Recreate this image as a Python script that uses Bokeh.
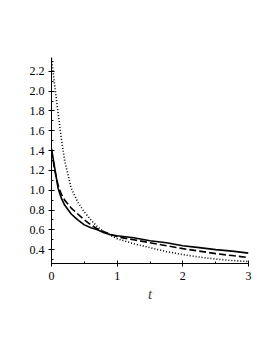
from bokeh.plotting import figure
from bokeh.models import Range1d, Label, FixedTicker, PrintfTickFormatter
from bokeh.embed import file_html
from bokeh.resources import INLINE

t = [0, 0.05, 0.1, 0.15, 0.2, 0.3, 0.4, 0.5, 0.6, 0.7, 0.8, 0.9, 1.0,
     1.25, 1.5, 1.75, 2.0, 2.25, 2.5, 2.75, 3.0]
H_solid = [1.42, 1.22, 1.02, 0.92, 0.85, 0.76, 0.70, 0.65, 0.62, 0.60, 0.57, 0.55, 0.54,
           0.52, 0.49, 0.47, 0.44, 0.42, 0.40, 0.385, 0.365]
H_dash = [1.40, 1.20, 1.05, 0.96, 0.90, 0.82, 0.76, 0.70, 0.65, 0.61, 0.58, 0.555, 0.53,
          0.50, 0.47, 0.44, 0.41, 0.385, 0.36, 0.34, 0.32]
H_dot = [2.33, 2.05, 1.78, 1.52, 1.30, 1.02, 0.88, 0.78, 0.70, 0.63, 0.58, 0.545, 0.51,
         0.46, 0.42, 0.38, 0.35, 0.325, 0.305, 0.29, 0.28]
x_ticks = [0, 1, 2, 3]
y_ticks = [0.4, 0.6, 0.8, 1.0, 1.2, 1.4, 1.6, 1.8, 2.0, 2.2]

p = figure(width=264, height=344, output_backend="svg", toolbar_location=None,
           x_range=Range1d(0, 3), y_range=Range1d(0.26, 2.34),
           min_border_left=51, min_border_right=16, min_border_top=57, min_border_bottom=81)
p.outline_line_color = None
p.xgrid.visible = False
p.ygrid.visible = False

font = "Liberation Serif"
for ax in (p.xaxis[0], p.yaxis[0]):
    ax.major_label_text_font = font
    ax.major_label_text_font_size = "12px"
    ax.major_label_text_color = "black"
    ax.axis_line_color = "black"
    ax.major_tick_line_color = "black"
    ax.minor_tick_line_color = "black"
    ax.major_tick_in = 3
    ax.major_tick_out = 3
    ax.minor_tick_in = 2
    ax.minor_tick_out = 0

p.xaxis.ticker = FixedTicker(ticks=x_ticks, minor_ticks=[0.5, 1.5, 2.5])
p.yaxis.ticker = FixedTicker(ticks=y_ticks,
                             minor_ticks=[0.3, 0.5, 0.7, 0.9, 1.1, 1.3, 1.5, 1.7, 1.9, 2.1, 2.3])
p.xaxis.formatter = PrintfTickFormatter(format="%d")
p.yaxis.formatter = PrintfTickFormatter(format="%.1f")
p.yaxis.major_label_standoff = 4
p.xaxis.major_label_standoff = 5

p.xaxis.axis_label = "t"
p.xaxis.axis_label_text_font = font
p.xaxis.axis_label_text_font_style = "italic"
p.xaxis.axis_label_text_font_size = "15px"
p.xaxis.axis_label_standoff = 3

p.add_layout(Label(x=-0.47, y=1.13, text="H", text_font=font, text_font_style="italic",
                   text_font_size="15px", text_align="center", text_baseline="middle"))

p.line(t, H_dot, line_color="black", line_width=1.6, line_dash="1 2")
p.line(t, H_dash, line_color="black", line_width=1.6, line_dash="7 3")
p.line(t, H_solid, line_color="black", line_width=1.6)

open("out.html", "w").write(file_html(p, INLINE))
